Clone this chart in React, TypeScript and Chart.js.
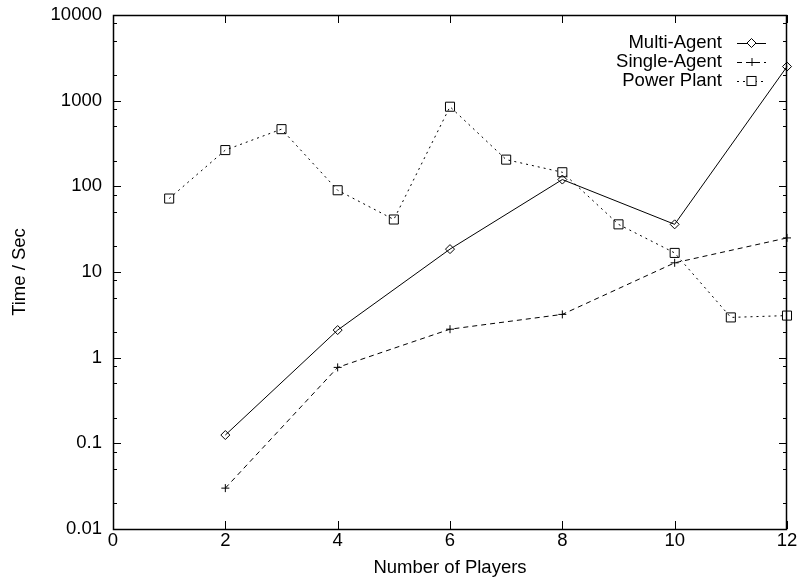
import React, { useEffect, useRef } from "react";
import { Chart, registerables } from "chart.js";

Chart.register(...registerables);

// ---- data ----
const agentPlayers = [2, 4, 6, 8, 10, 12];
const multiAgent = [0.125, 2.1, 18.5, 120, 36, 2500];
const singleAgent = [0.03, 0.77, 2.15, 3.2, 12.8, 25];
const plantPlayers = [1, 2, 3, 4, 5, 6, 7, 8, 9, 10, 11, 12];
const powerPlant = [72, 265, 465, 90, 41, 850, 205, 146, 36, 16.7, 2.95, 3.1];

const xTickValues = [0, 2, 4, 6, 8, 10, 12];
const yTickValues = [0.01, 0.1, 1, 10, 100, 1000, 10000];
const yTickLabels = ["0.01", "0.1", "1", "10", "100", "1000", "10000"];
const yMinorFactors = [2, 5, 8];

const FONT = "'Liberation Sans', Arial, Helvetica, sans-serif";
const FONT_SIZE = 18.5;

const boxPlugin = {
  id: "gnuplotBox",
  beforeDatasetsDraw(chart: any) {
    const { ctx, chartArea, scales } = chart;
    const { left, right, top, bottom } = chartArea;
    ctx.save();
    ctx.strokeStyle = "#000";
    ctx.setLineDash([]);
    ctx.lineWidth = 1.5;
    ctx.strokeRect(left + 0.5, top + 0.5, right - left - 1, bottom - top);
    ctx.lineWidth = 1;
    ctx.beginPath();
    // x ticks
    for (const v of xTickValues) {
      const px = Math.round(scales.x.getPixelForValue(v)) + 0.5;
      ctx.moveTo(px, bottom);
      ctx.lineTo(px, bottom - 8);
      ctx.moveTo(px, top);
      ctx.lineTo(px, top + 8);
    }
    // y ticks
    for (let i = 0; i < yTickValues.length; i++) {
      const v = yTickValues[i];
      const py = Math.round(scales.y.getPixelForValue(v)) + 0.5;
      ctx.moveTo(left, py);
      ctx.lineTo(left + 8, py);
      ctx.moveTo(right, py);
      ctx.lineTo(right - 8, py);
      if (i < yTickValues.length - 1) {
        for (const f of yMinorFactors) {
          const mv = v * f;
          const my = Math.round(scales.y.getPixelForValue(mv)) + 0.5;
          ctx.moveTo(left, my);
          ctx.lineTo(left + 4, my);
          ctx.moveTo(right, my);
          ctx.lineTo(right - 4, my);
        }
      }
    }
    ctx.stroke();
    ctx.restore();
  },
  afterDraw(chart: any) {
    const { ctx } = chart;
    const textRight = 722;
    const lineL = 737;
    const lineR = 766;
    const rows = [43, 62, 81];
    ctx.save();
    chart.data.datasets.forEach((ds: any, i: number) => {
      const y = rows[i];
      ctx.font = `${FONT_SIZE}px ${FONT}`;
      ctx.fillStyle = "#000";
      ctx.textAlign = "right";
      ctx.textBaseline = "middle";
      ctx.fillText(ds.label, textRight, y);
      ctx.strokeStyle = ds.borderColor;
      ctx.lineWidth = ds.borderWidth;
      ctx.setLineDash(ds.borderDash || []);
      ctx.beginPath();
      ctx.moveTo(lineL, y + 0.5);
      ctx.lineTo(lineR, y + 0.5);
      ctx.stroke();
      ctx.setLineDash([]);
      const cx = (lineL + lineR) / 2;
      const r = ds.pointRadius;
      ctx.beginPath();
      if (ds.pointStyle === "rectRot") {
        ctx.moveTo(cx, y - r);
        ctx.lineTo(cx + r, y);
        ctx.lineTo(cx, y + r);
        ctx.lineTo(cx - r, y);
        ctx.closePath();
        ctx.fillStyle = "#fff";
        ctx.fill();
        ctx.stroke();
      } else if (ds.pointStyle === "rect") {
        const s = Math.SQRT1_2 * r;
        ctx.fillStyle = "#fff";
        ctx.fillRect(cx - s, y - s, 2 * s, 2 * s);
        ctx.strokeRect(cx - s, y - s, 2 * s, 2 * s);
      } else {
        ctx.moveTo(cx - r, y + 0.5);
        ctx.lineTo(cx + r, y + 0.5);
        ctx.moveTo(cx + 0.5, y - r);
        ctx.lineTo(cx + 0.5, y + r);
        ctx.stroke();
      }
    });
    ctx.restore();
  },
};

export default function App() {
  const ref = useRef<HTMLCanvasElement>(null);
  useEffect(() => {
    if (!ref.current) return;
    const chart = new Chart(ref.current, {
      type: "line",
      data: {
        datasets: [
          {
            label: "Multi-Agent",
            data: agentPlayers.map((x, i) => ({ x, y: multiAgent[i] })),
            borderColor: "#000",
            borderWidth: 1,
            pointStyle: "rectRot",
            pointRadius: 4.5,
            pointBorderWidth: 1,
            pointBackgroundColor: "rgba(255,255,255,0)",
            pointBorderColor: "#000",
            fill: false,
            tension: 0,
            clip: false as any,
          },
          {
            label: "Single-Agent",
            data: agentPlayers.map((x, i) => ({ x, y: singleAgent[i] })),
            borderColor: "#000",
            borderWidth: 1,
            borderDash: [5, 4],
            pointStyle: "cross",
            pointRadius: 4,
            pointBorderWidth: 1,
            pointBorderColor: "#000",
            fill: false,
            tension: 0,
            clip: false as any,
          },
          {
            label: "Power Plant",
            data: plantPlayers.map((x, i) => ({ x, y: powerPlant[i] })),
            borderColor: "#000",
            borderWidth: 1,
            borderDash: [2, 4],
            pointStyle: "rect",
            pointRadius: 6.4,
            pointBorderWidth: 1,
            pointBackgroundColor: "rgba(255,255,255,0)",
            pointBorderColor: "#000",
            fill: false,
            tension: 0,
            clip: false as any,
          },
        ],
      },
      options: {
        animation: false,
        responsive: false,
        events: [],
        layout: { padding: { top: 15, right: 11, left: 0, bottom: 0 } },
        plugins: {
          legend: { display: false },
          tooltip: { enabled: false },
        },
        font: { family: FONT, size: FONT_SIZE } as any,
        scales: {
          x: {
            type: "linear",
            min: 0,
            max: 12,
            grid: { display: false, drawTicks: false },
            border: { display: false },
            afterBuildTicks: (axis: any) => {
              axis.ticks = xTickValues.map((v) => ({ value: v }));
            },
            afterFit: (axis: any) => {
              axis.height = 50;
              axis.paddingLeft = 0;
              axis.paddingRight = 0;
            },
            ticks: {
              color: "#000",
              padding: 1,
              autoSkip: false,
              maxRotation: 0,
              font: { family: FONT, size: FONT_SIZE },
              callback: (v: any) => String(v),
            },
            title: {
              display: true,
              text: "Number of Players",
              color: "#000",
              padding: { top: 0, bottom: 0 },
              font: { family: FONT, size: FONT_SIZE },
            },
          },
          y: {
            type: "logarithmic",
            min: 0.01,
            max: 10000,
            grid: { display: false, drawTicks: false },
            border: { display: false },
            afterBuildTicks: (axis: any) => {
              axis.ticks = yTickValues.map((v) => ({ value: v }));
            },
            afterFit: (axis: any) => {
              axis.width = 113;
              axis.paddingTop = 0;
              axis.paddingBottom = 0;
            },
            ticks: {
              color: "#000",
              padding: 11,
              autoSkip: false,
              font: { family: FONT, size: FONT_SIZE },
              callback: (v: any) => {
                const idx = yTickValues.findIndex((t) => Math.abs(t - v) / t < 1e-6);
                return idx >= 0 ? yTickLabels[idx] : "";
              },
            },
            title: {
              display: true,
              text: "Time / Sec",
              color: "#000",
              padding: { top: 9, bottom: 0 },
              font: { family: FONT, size: FONT_SIZE },
            },
          },
        },
      } as any,
      plugins: [boxPlugin],
    });
    return () => chart.destroy();
  }, []);
  return (
    <div style={{ position: "fixed", left: 0, top: 0, width: 798, height: 579 }}>
      <canvas ref={ref} width={798} height={579} style={{ display: "block" }} />
    </div>
  );
}
